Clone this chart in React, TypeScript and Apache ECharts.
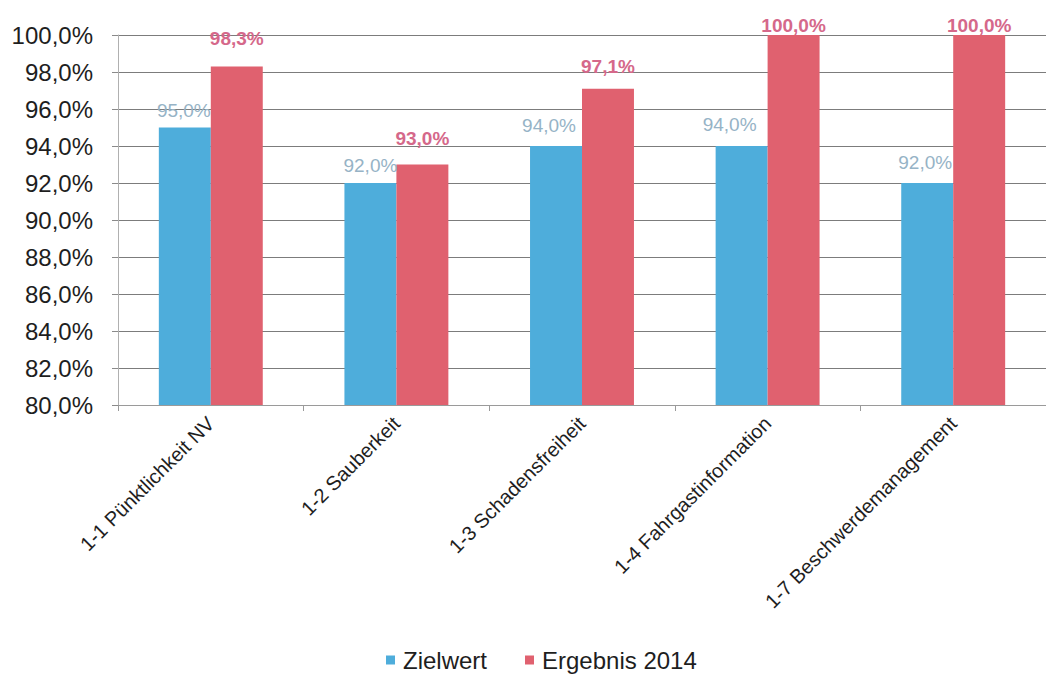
import React, { useEffect, useRef } from "react";
import * as echarts from "echarts";

const categories = [
  "1-1 Pünktlichkeit NV",
  "1-2 Sauberkeit",
  "1-3 Schadensfreiheit",
  "1-4 Fahrgastinformation",
  "1-7 Beschwerdemanagement",
];
const zielwert = [95.0, 92.0, 94.0, 94.0, 92.0];
const ergebnis2014 = [98.3, 93.0, 97.1, 100.0, 100.0];
const seriesNames = ["Zielwert", "Ergebnis 2014"];

// label styling (distance above bar, horizontal shift) as in the original
const zielLabelDistance = [8, 8, 11, 12, 11];
const zielLabelShift = [-1, 0, -7, -12, -2];
const ergebnisLabelDistance = [18, 17, 13, 0, 0];

const FONT = "'Liberation Sans', Arial, Helvetica, sans-serif";
const fmt = (v: number) => v.toFixed(1).replace(".", ",") + "%";

export default function App() {
  const ref = useRef<HTMLDivElement>(null);
  useEffect(() => {
    if (!ref.current) return;
    const chart = echarts.init(ref.current, null, { renderer: "svg" });
    chart.setOption({
      animation: false,
      backgroundColor: "#ffffff",
      textStyle: { fontFamily: FONT },
      grid: { left: 118, top: 35, width: 935, height: 370, containLabel: false },
      legend: {
        data: seriesNames,
        left: 381,
        top: 643,
        icon: "rect",
        itemWidth: 9,
        itemHeight: 9,
        itemGap: 38,
        textStyle: { fontSize: 24, color: "#1e1e1e", fontFamily: FONT, padding: [0, 0, 0, 3] },
      },
      xAxis: {
        type: "category",
        data: categories,
        axisLine: { show: true, lineStyle: { color: "#9a9a9a", width: 1 } },
        axisTick: { show: true, length: 6, lineStyle: { color: "#9a9a9a" } },
        axisLabel: {
          rotate: 45,
          fontSize: 20,
          color: "#1e1e1e",
          margin: 15,
          fontFamily: FONT,
        },
        splitLine: { show: false },
      },
      yAxis: {
        type: "value",
        min: 80,
        max: 100,
        interval: 2,
        axisLine: { show: true, lineStyle: { color: "#b0b0b0", width: 1 } },
        axisTick: { show: true, length: 6, lineStyle: { color: "#8a8a8a" } },
        axisLabel: {
          fontSize: 24,
          color: "#1e1e1e",
          margin: 25,
          fontFamily: FONT,
          formatter: (v: number) => fmt(v),
        },
        splitLine: { show: true, lineStyle: { color: "#7c7c7c", width: 1 } },
      },
      series: [
        {
          name: seriesNames[0],
          type: "bar",
          barGap: "0%",
          barCategoryGap: "44%",
          itemStyle: { color: "#4eaddb" },
          label: {
            show: true,
            position: "top",
            fontSize: 19,
            color: "#96b3c6",
            fontFamily: FONT,
            formatter: (p: any) => fmt(p.value),
          },
          data: zielwert.map((v, i) => ({
            value: v,
            label: { distance: zielLabelDistance[i], offset: [zielLabelShift[i], 0] },
          })),
        },
        {
          name: seriesNames[1],
          type: "bar",
          barGap: "0%",
          barCategoryGap: "44%",
          itemStyle: { color: "#e0616f" },
          label: {
            show: true,
            position: "top",
            fontSize: 19,
            fontWeight: "bold",
            color: "#d5688a",
            fontFamily: FONT,
            formatter: (p: any) => fmt(p.value),
          },
          data: ergebnis2014.map((v, i) => ({
            value: v,
            label: { distance: ergebnisLabelDistance[i] },
          })),
        },
      ],
    });
    return () => chart.dispose();
  }, []);
  return (
    <div
      ref={ref}
      style={{ position: "absolute", left: 0, top: 0, width: 1046, height: 675 }}
    />
  );
}
